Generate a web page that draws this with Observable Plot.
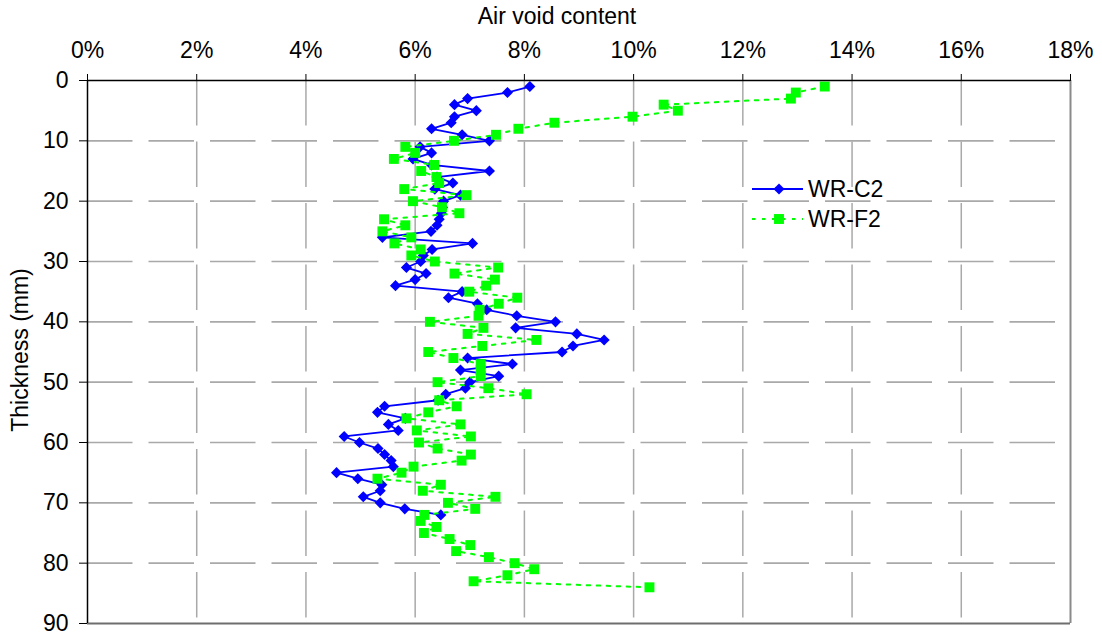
<!DOCTYPE html>
<html>
<head>
<meta charset="utf-8">
<script src="https://cdn.jsdelivr.net/npm/d3@7"></script>
<script src="https://cdn.jsdelivr.net/npm/@observablehq/plot@0.6"></script>
<style>
  html, body { margin: 0; padding: 0; background: #fff; }
  #chart { position: relative; width: 1102px; height: 636px; font-family: "Liberation Sans", Arial, sans-serif; }
  #legend { position: absolute; left: 750px; top: 172px; }
</style>
</head>
<body>
<div id="chart"></div>
<script>
// Air void content (%) measured through the specimen thickness (mm)
const seriesNames = ["WR-C2", "WR-F2"];

const depthC2 = d3.range(1, 73);
const airC2 = [
  8.10, 7.69, 6.96, 6.72, 7.12, 6.72, 6.66, 6.30, 6.86, 7.36,
  6.09, 6.30, 5.96, 6.30, 7.36, 6.40, 6.69, 6.36, 6.83, 6.52,
  6.50, 6.48, 6.44, 6.40, 6.29, 5.40, 7.05, 6.31, 6.15, 6.10,
  5.84, 6.20, 6.00, 5.64, 6.86, 6.61, 7.14, 7.31, 7.86, 8.57,
  7.84, 8.96, 9.46, 8.89, 8.69, 6.96, 7.78, 6.83, 7.53, 7.00,
  6.92, 6.56, 6.42, 5.44, 5.31, 5.82, 5.51, 5.69, 4.70, 4.98,
  5.32, 5.44, 5.56, 5.60, 4.56, 4.95, 5.39, 5.36, 5.05, 5.36,
  5.81, 6.47
];

const depthF2 = d3.range(1, 85);
const airF2 = [
  13.50, 12.97, 12.88, 10.55, 10.81, 9.98, 8.55, 7.89, 7.48, 6.71,
  5.82, 6.00, 5.61, 6.35, 6.11, 6.39, 6.44, 5.80, 6.94, 5.96,
  6.49, 6.81, 5.43, 5.82, 5.40, 5.93, 5.62, 6.10, 5.93, 6.36,
  7.52, 6.72, 7.46, 7.30, 6.99, 7.87, 7.53, 7.18, 7.16, 6.27,
  7.25, 6.96, 8.22, 7.23, 6.24, 6.70, 7.20, 7.20, 7.20, 6.41,
  7.34, 8.04, 6.44, 6.76, 6.24, 5.84, 6.83, 6.03, 7.02, 6.07,
  6.41, 7.02, 6.85, 5.97, 5.75, 5.31, 6.47, 6.14, 7.47, 6.60,
  7.10, 6.17, 6.10, 6.39, 6.16, 6.63, 7.01, 6.75, 7.35, 7.82,
  8.18, 7.69, 7.07, 10.29
];

const xTicks = [0, 2, 4, 6, 8, 10, 12, 14, 16, 18];
const yTicks = [0, 10, 20, 30, 40, 50, 60, 70, 80, 90];
const xTitle = "Air void content";
const yTitle = "Thickness (mm)";

const rowsC2 = depthC2.map((d, i) => ({depth: d, air: airC2[i]}));
const rowsF2 = depthF2.map((d, i) => ({depth: d, air: airF2[i]}));

const blue = "#0000ff";
const green = "#00ff00";
const gridColor = "#a9a9a9";
const greenDash = "3.5,6.5";
const diamondR = 5;
const squareR = 5.6;
const fontSize = 23;
const fontFamily = '"Liberation Sans", Arial, sans-serif';

const chart = Plot.plot({
  width: 1102,
  height: 636,
  marginTop: 80,
  marginLeft: 87,
  marginRight: 32,
  marginBottom: 13,
  style: {fontFamily, fontSize: fontSize + "px", color: "#000", background: "#fff"},
  x: {domain: [0, 18]},
  y: {domain: [0, 90], reverse: true},
  marks: [
    // dashed grid
    Plot.ruleX(xTicks.slice(1, -1), {y1: 0, y2: 90, stroke: gridColor, strokeWidth: 1.5, strokeDasharray: "45.5,16"}),
    Plot.ruleY(yTicks.slice(1, -1), {x1: 0, x2: 18, stroke: gridColor, strokeWidth: 1.7, strokeDasharray: "45.5,16"}),
    // plot-area border on the right and bottom
    Plot.ruleX([18], {y1: 0, y2: 90, stroke: "#8a8a8a", strokeWidth: 2}),
    Plot.ruleY([90], {x1: 0, x2: 18, stroke: "#6e6e6e", strokeWidth: 2}),
    // WR-C2
    Plot.line(rowsC2, {x: "air", y: "depth", stroke: blue, strokeWidth: 1.8}),
    Plot.dot(rowsC2, {x: "air", y: "depth", symbol: "diamond2", r: diamondR, fill: blue, stroke: "none"}),
    // WR-F2
    Plot.line(rowsF2, {x: "air", y: "depth", stroke: green, strokeWidth: 2, strokeDasharray: greenDash}),
    Plot.dot(rowsF2, {x: "air", y: "depth", symbol: "square", r: squareR, fill: green, stroke: "none"}),
    // axis lines
    Plot.ruleY([0], {x1: 0, x2: 18, stroke: "#000", strokeWidth: 1.5}),
    Plot.ruleX([0], {y1: 0, y2: 90, stroke: "#000", strokeWidth: 1.5}),
    Plot.axisX({anchor: "top", ticks: xTicks, tickFormat: d => d + "%", tickSize: 7, tickPadding: 16, label: null, fontSize, stroke: "#000"}),
    Plot.axisY({anchor: "left", ticks: yTicks, tickSize: 8, tickPadding: 11, label: null, fontSize, stroke: "#000"}),
    // axis titles
    Plot.text([xTitle], {text: d => d, frameAnchor: "top", dy: -64, dx: -22, textAnchor: "middle", lineAnchor: "middle", fontSize, fill: "#000"}),
    Plot.text([yTitle], {text: d => d, frameAnchor: "left", rotate: -90, dx: -67, dy: -2, textAnchor: "middle", lineAnchor: "middle", fontSize, fill: "#000"})
  ]
});

const root = document.getElementById("chart");
root.appendChild(chart);

// legend
const legend = d3.select(root).append("svg")
  .attr("id", "legend")
  .attr("width", 150)
  .attr("height", 64);

const legendItems = [
  {name: seriesNames[0], color: blue, dash: null, symbol: d3.symbolDiamond2, r: diamondR},
  {name: seriesNames[1], color: green, dash: greenDash, symbol: d3.symbolSquare, r: squareR}
];

legendItems.forEach((item, i) => {
  const cy = 17 + i * 30;
  const g = legend.append("g");
  g.append("line")
    .attr("x1", 2).attr("x2", 53).attr("y1", cy).attr("y2", cy)
    .attr("stroke", item.color)
    .attr("stroke-width", item.dash ? 2 : 1.8)
    .attr("stroke-dasharray", item.dash);
  g.append("path")
    .attr("transform", `translate(29,${cy})`)
    .attr("d", d3.symbol(item.symbol, Math.PI * item.r * item.r)())
    .attr("fill", item.color);
  g.append("text")
    .attr("x", 58).attr("y", cy).attr("dy", "0.35em")
    .attr("font-size", fontSize)
    .attr("font-family", fontFamily)
    .attr("fill", "#000")
    .text(item.name);
});
</script>
</body>
</html>
